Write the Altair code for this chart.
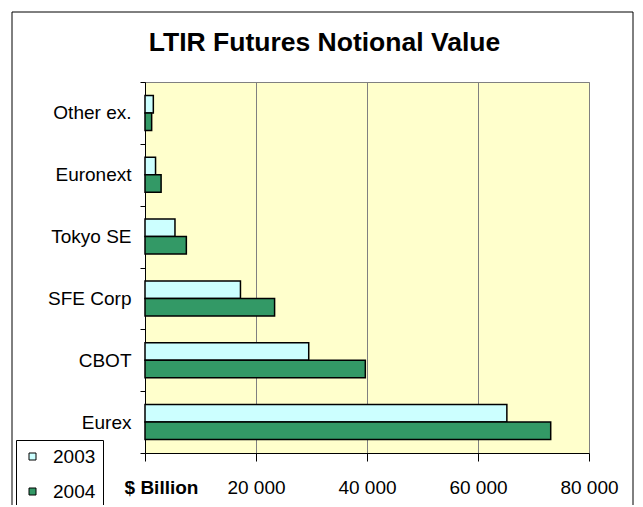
import altair as alt
import pandas as pd

exchanges = ["Other ex.", "Euronext", "Tokyo SE", "SFE Corp", "CBOT", "Eurex"]
years = ["2003", "2004"]
values_2003 = [1500, 1900, 5400, 17200, 29500, 65200]
values_2004 = [1200, 2900, 7450, 23350, 39700, 73100]
x_ticks = [0, 20000, 40000, 60000, 80000]
title_text = "LTIR Futures Notional Value"
x_title = "$ Billion"
colors = ["#CCFFFF", "#339966"]

rows = []
for ex, a, b in zip(exchanges, values_2003, values_2004):
    rows.append({"Exchange": ex, "Year": years[0], "Value": a})
    rows.append({"Exchange": ex, "Year": years[1], "Value": b})
df = pd.DataFrame(rows)

FONT = "Liberation Sans"

bars = alt.Chart(df).mark_bar(stroke="black", strokeWidth=1.5).encode(
    x=alt.X(
        "Value:Q",
        scale=alt.Scale(domain=[0, 80000], nice=False),
        axis=alt.Axis(
            values=x_ticks,
            title=x_title,
            labelExpr="datum.value == 0 ? '' : replace(format(datum.value, ','), ',', ' ')",
            grid=True,
            gridColor="#808080",
            gridWidth=1,
            tickSize=8,
            tickColor="#000000",
            domainColor="#000000",
            labelFontSize=19,
            labelFont=FONT,
            labelColor="#000000",
            labelPadding=26,
            labelBaseline="middle",
            labelFlush=False,
            labelOverlap=False,
            titleFont=FONT,
            titleFontSize=19,
            titleFontWeight="bold",
            titleColor="#000000",
            titleX=16,
            titleY=34,
            titleAlign="center",
            titleBaseline="middle",
        ),
    ),
    y=alt.Y(
        "Exchange:N",
        sort=exchanges,
        scale=alt.Scale(paddingInner=0, paddingOuter=0),
        axis=alt.Axis(
            title=None,
            tickBand="extent",
            tickSize=5,
            tickColor="#000000",
            domainColor="#000000",
            labelFontSize=19,
            labelFont=FONT,
            labelColor="#000000",
            labelPadding=9,
            grid=False,
        ),
    ),
    yOffset=alt.YOffset(
        "Year:N", sort=years, scale=alt.Scale(paddingOuter=0.77, paddingInner=0)
    ),
    color=alt.Color(
        "Year:N",
        scale=alt.Scale(domain=years, range=colors),
        legend=alt.Legend(
            title=None,
            orient="none",
            legendX=-129,
            legendY=358,
            direction="vertical",
            symbolType="square",
            symbolSize=49,
            symbolStrokeColor="black",
            symbolStrokeWidth=1,
            labelFont=FONT,
            labelFontSize=19,
            labelColor="#000000",
            labelOffset=11,
            rowPadding=15,
            padding=7,
            strokeColor="black",
            fillColor="white",
        ),
    ),
)

frame = alt.Chart(pd.DataFrame({"k": [0]})).mark_rect(
    fill="transparent", stroke="black", strokeWidth=1
).encode(
    x=alt.value(-133), x2=alt.value(488), y=alt.value(-70), y2=alt.value(530)
)

title = alt.Chart(pd.DataFrame({"t": [title_text]})).mark_text(
    font=FONT, fontSize=26.5, fontWeight="bold", align="center", baseline="middle", color="black"
).encode(x=alt.value(179.5), y=alt.value(-39.5), text="t:N")

chart = alt.layer(bars, frame, title).properties(
    width=444,
    height=371,
    autosize=alt.AutoSizeParams(type="none"),
    padding={"left": 137, "top": 74, "right": 46, "bottom": 52},
    background="white",
).configure_view(fill="#FFFFCC", stroke="#808080", strokeWidth=1)

chart.save("out.html", embed_options={"renderer": "svg", "actions": False})
